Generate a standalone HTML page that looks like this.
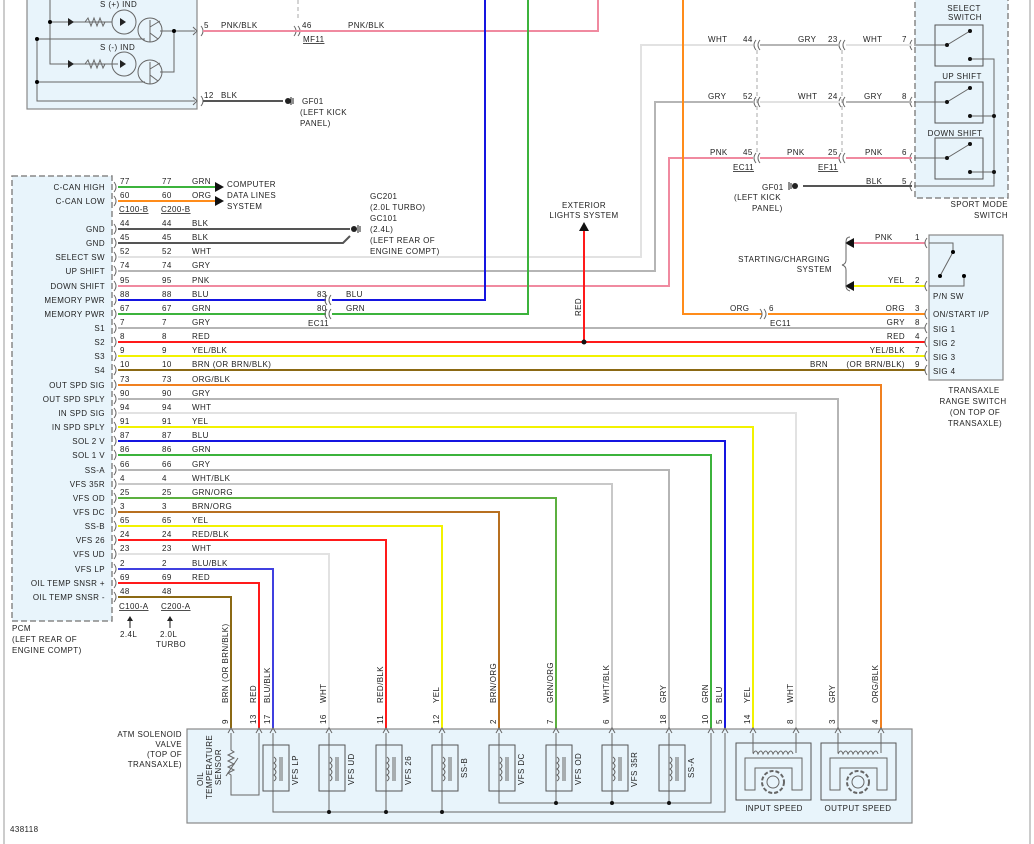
<!DOCTYPE html>
<html><head><meta charset="utf-8"><style>
body{margin:0;background:#fff}
svg{display:block}
text{font-family:"Liberation Sans",Arial,sans-serif;font-size:8px;fill:#222;letter-spacing:.4px}
.r{text-anchor:end}.m{text-anchor:middle}
.w{fill:none;stroke-width:2}
.k{fill:none;stroke:#666;stroke-width:1}
.u{text-decoration:underline}
</style></head><body>
<svg width="1034" height="844" viewBox="0 0 1034 844" xmlns="http://www.w3.org/2000/svg">
<line x1="4" y1="0" x2="4" y2="844" stroke="#999"/>
<line x1="1030" y1="0" x2="1030" y2="844" stroke="#999"/>
<text x="10" y="832">438118</text>

<!-- top-left component -->
<rect x="27" y="-2" width="170" height="111" fill="#e8f4fb" stroke="#888" stroke-width="1.2"/>
<g class="k" stroke="#555">
<path d="M37 39V101H195M37 39H145M37 82H145M50 0V64H118M50 22H112M174 31V72H160M160 31H195M150 20V42M150 62V84"/>
<path d="M85 22l3-4 3 8 3-8 3 8 3-8 3 8 2-4M85 64l3-4 3 8 3-8 3 8 3-8 3 8 2-4"/>
<circle cx="124" cy="22" r="12"/><circle cx="150" cy="30" r="12"/>
<circle cx="124" cy="64" r="12"/><circle cx="150" cy="72" r="12"/>
<path d="M150 27L160 21M150 33L158 39M150 69L160 63M150 75L158 81"/>
</g>
<path d="M68 18v8l6-4zM68 60v8l6-4zM120 18v8l6-4zM120 60v8l6-4" fill="#222"/>
<circle cx="37" cy="39" r="2"/><circle cx="37" cy="82" r="2"/><circle cx="50" cy="22" r="2"/><circle cx="174" cy="31" r="2"/>
<text x="100" y="7">S (+) IND</text><text x="100" y="50">S (-) IND</text>
<path d="M193 27l4 4-4 4M193 97l4 4-4 4" class="k"/>
<path d="M201 26q4 5 0 10M201 96q4 5 0 10M294 26q4 5 0 10M298 26q4 5 0 10" class="k"/>
<line x1="298" y1="0" x2="298" y2="20" stroke="#aaa" stroke-dasharray="4,3"/>
<path d="M203 31H598V0" class="w" stroke="#f08aa0"/>
<text x="204" y="28">5</text><text x="221" y="28">PNK/BLK</text><text x="302" y="28">46</text><text x="348" y="28">PNK/BLK</text>
<text x="303" y="42" class="u">MF11</text>
<path d="M203 101H283" class="w" stroke="#555"/>
<text x="204" y="98">12</text><text x="221" y="98">BLK</text>
<circle cx="288" cy="101" r="3" fill="#222"/><path d="M291 97v8M293 98v6" stroke="#222"/>
<text x="302" y="104">GF01</text><text x="300" y="115">(LEFT KICK</text><text x="300" y="126">PANEL)</text>

<!-- PCM -->
<rect x="12" y="176" width="100" height="445" fill="#e8f4fb" stroke="#888" stroke-width="1.5" stroke-dasharray="6,3"/>
<g class="r">
<text x="105" y="190">C-CAN HIGH</text><text x="105" y="204">C-CAN LOW</text>
<text x="105" y="232">GND</text><text x="105" y="246">GND</text><text x="105" y="260">SELECT SW</text><text x="105" y="274">UP SHIFT</text><text x="105" y="289">DOWN SHIFT</text><text x="105" y="303">MEMORY PWR</text><text x="105" y="317">MEMORY PWR</text><text x="105" y="331">S1</text><text x="105" y="345">S2</text><text x="105" y="359">S3</text><text x="105" y="373">S4</text><text x="105" y="388">OUT SPD SIG</text><text x="105" y="402">OUT SPD SPLY</text><text x="105" y="416">IN SPD SIG</text><text x="105" y="430">IN SPD SPLY</text><text x="105" y="444">SOL 2 V</text><text x="105" y="458">SOL 1 V</text><text x="105" y="473">SS-A</text><text x="105" y="487">VFS 35R</text><text x="105" y="501">VFS OD</text><text x="105" y="515">VFS DC</text><text x="105" y="529">SS-B</text><text x="105" y="543">VFS 26</text><text x="105" y="557">VFS UD</text><text x="105" y="572">VFS LP</text><text x="105" y="586">OIL TEMP SNSR +</text><text x="105" y="600">OIL TEMP SNSR -</text>
</g>
<text x="12" y="631">PCM</text><text x="12" y="642">(LEFT REAR OF</text><text x="12" y="653">ENGINE COMPT)</text>
<path class="k" d="M114 182q4 5 0 10M114 196q4 5 0 10M114 224q4 5 0 10M114 238q4 5 0 10M114 252q4 5 0 10M114 266q4 5 0 10M114 281q4 5 0 10M114 295q4 5 0 10M114 309q4 5 0 10M114 323q4 5 0 10M114 337q4 5 0 10M114 351q4 5 0 10M114 365q4 5 0 10M114 380q4 5 0 10M114 394q4 5 0 10M114 408q4 5 0 10M114 422q4 5 0 10M114 436q4 5 0 10M114 450q4 5 0 10M114 465q4 5 0 10M114 479q4 5 0 10M114 493q4 5 0 10M114 507q4 5 0 10M114 521q4 5 0 10M114 535q4 5 0 10M114 549q4 5 0 10M114 564q4 5 0 10M114 578q4 5 0 10M114 592q4 5 0 10"/>

<!-- wires -->
<path class="w" stroke="#3cb33c" d="M118 187H215"/><path class="w" stroke="#ff8c1a" d="M118 201H215"/>
<path d="M215 182v10l9-5zM215 196v10l9-5z" fill="#111"/>
<text x="227" y="187">COMPUTER</text><text x="227" y="198">DATA LINES</text><text x="227" y="209">SYSTEM</text>
<text x="119" y="212" class="u">C100-B</text><text x="161" y="212" class="u">C200-B</text>
<path class="w" stroke="#555" d="M118 229H350M118 243H343L350 236"/>
<circle cx="354" cy="229" r="3" fill="#222"/><path d="M358 225v8M360 226v6" stroke="#222"/>
<text x="370" y="199">GC201</text><text x="370" y="210">(2.0L TURBO)</text><text x="370" y="221">GC101</text><text x="370" y="232">(2.4L)</text><text x="370" y="243">(LEFT REAR OF</text><text x="370" y="254">ENGINE COMPT)</text>

<path class="w" stroke="#e2e2e2" d="M118 257H641V45H753"/>
<path class="w" stroke="#b5b5b5" d="M118 271H655V102H753"/>
<path class="w" stroke="#f08aa0" d="M118 286H669V158H753"/>
<path class="w" stroke="#1515e0" d="M118 300H326M332 300H485V0"/>
<path class="w" stroke="#3cb33c" d="M118 314H326M332 314H528V0"/>
<path class="k" d="M327 295q-4 5 0 10M331 295q-4 5 0 10M327 309q-4 5 0 10M331 309q-4 5 0 10"/>
<text x="317" y="297">83</text><text x="317" y="311">80</text><text x="346" y="297">BLU</text><text x="346" y="311">GRN</text><text x="308" y="326" class="u">EC11</text>

<path class="w" stroke="#ff8c1a" d="M683 0V314H762M768 314H925"/>
<path class="k" d="M760 309q4 5 0 10M764 309q4 5 0 10"/>
<text x="730" y="311">ORG</text><text x="769" y="311">6</text><text x="770" y="326" class="u">EC11</text>
<path class="w" stroke="#b5b5b5" d="M118 328H925"/>
<path class="w" stroke="#ff1a1a" d="M118 342H925M584 342V230"/>
<circle cx="584" cy="342" r="2.5" fill="#111"/><path d="M579 231l5-9 5 9z" fill="#111"/>
<text x="584" y="208" class="m">EXTERIOR</text><text x="584" y="218" class="m">LIGHTS SYSTEM</text>
<text transform="translate(581,316) rotate(-90)">RED</text>
<path class="w" stroke="#f2f200" d="M118 356H925"/>
<path class="w" stroke="#8b6914" d="M118 370H925"/>
<path class="w" stroke="#f08020" d="M118 385H881V728"/>
<path class="w" stroke="#b5b5b5" d="M118 399H838V728"/>
<path class="w" stroke="#e2e2e2" d="M118 413H796V728"/>
<path class="w" stroke="#f2f200" d="M118 427H753V728"/>
<path class="w" stroke="#1515e0" d="M118 441H725V728"/>
<path class="w" stroke="#3cb33c" d="M118 455H711V728"/>
<path class="w" stroke="#b5b5b5" d="M118 470H669V728"/>
<path class="w" stroke="#c8c8c8" d="M118 484H612V728"/>
<path class="w" stroke="#5cb040" d="M118 498H556V728"/>
<path class="w" stroke="#b87020" d="M118 512H499V728"/>
<path class="w" stroke="#f2f200" d="M118 526H442V728"/>
<path class="w" stroke="#ff1a1a" d="M118 540H386V728"/>
<path class="w" stroke="#e2e2e2" d="M118 554H329V728"/>
<path class="w" stroke="#4040e0" d="M118 569H273V728"/>
<path class="w" stroke="#ff1a1a" d="M118 583H259V728"/>
<path class="w" stroke="#8b6914" d="M118 597H231V728"/>

<!-- row labels -->
<g>
<text x="120" y="184">77</text><text x="162" y="184">77</text><text x="192" y="184">GRN</text>
<text x="120" y="198">60</text><text x="162" y="198">60</text><text x="192" y="198">ORG</text>
<text x="120" y="226">44</text><text x="162" y="226">44</text><text x="192" y="226">BLK</text>
<text x="120" y="240">45</text><text x="162" y="240">45</text><text x="192" y="240">BLK</text>
<text x="120" y="254">52</text><text x="162" y="254">52</text><text x="192" y="254">WHT</text>
<text x="120" y="268">74</text><text x="162" y="268">74</text><text x="192" y="268">GRY</text>
<text x="120" y="283">95</text><text x="162" y="283">95</text><text x="192" y="283">PNK</text>
<text x="120" y="297">88</text><text x="162" y="297">88</text><text x="192" y="297">BLU</text>
<text x="120" y="311">67</text><text x="162" y="311">67</text><text x="192" y="311">GRN</text>
<text x="120" y="325">7</text><text x="162" y="325">7</text><text x="192" y="325">GRY</text>
<text x="120" y="339">8</text><text x="162" y="339">8</text><text x="192" y="339">RED</text>
<text x="120" y="353">9</text><text x="162" y="353">9</text><text x="192" y="353">YEL/BLK</text>
<text x="120" y="367">10</text><text x="162" y="367">10</text><text x="192" y="367">BRN   (OR BRN/BLK)</text>
<text x="120" y="382">73</text><text x="162" y="382">73</text><text x="192" y="382">ORG/BLK</text>
<text x="120" y="396">90</text><text x="162" y="396">90</text><text x="192" y="396">GRY</text>
<text x="120" y="410">94</text><text x="162" y="410">94</text><text x="192" y="410">WHT</text>
<text x="120" y="424">91</text><text x="162" y="424">91</text><text x="192" y="424">YEL</text>
<text x="120" y="438">87</text><text x="162" y="438">87</text><text x="192" y="438">BLU</text>
<text x="120" y="452">86</text><text x="162" y="452">86</text><text x="192" y="452">GRN</text>
<text x="120" y="467">66</text><text x="162" y="467">66</text><text x="192" y="467">GRY</text>
<text x="120" y="481">4</text><text x="162" y="481">4</text><text x="192" y="481">WHT/BLK</text>
<text x="120" y="495">25</text><text x="162" y="495">25</text><text x="192" y="495">GRN/ORG</text>
<text x="120" y="509">3</text><text x="162" y="509">3</text><text x="192" y="509">BRN/ORG</text>
<text x="120" y="523">65</text><text x="162" y="523">65</text><text x="192" y="523">YEL</text>
<text x="120" y="537">24</text><text x="162" y="537">24</text><text x="192" y="537">RED/BLK</text>
<text x="120" y="551">23</text><text x="162" y="551">23</text><text x="192" y="551">WHT</text>
<text x="120" y="566">2</text><text x="162" y="566">2</text><text x="192" y="566">BLU/BLK</text>
<text x="120" y="580">69</text><text x="162" y="580">69</text><text x="192" y="580">RED</text>
<text x="120" y="594">48</text><text x="162" y="594">48</text>
</g>
<text x="119" y="609" class="u">C100-A</text><text x="161" y="609" class="u">C200-A</text>
<path d="M130 628V619M170 628V619" stroke="#222"/><path d="M127 621l3-5 3 5zM167 621l3-5 3 5z" fill="#222"/>
<text x="120" y="637">2.4L</text><text x="160" y="637">2.0L</text><text x="156" y="647">TURBO</text>

<!-- sport mode switch -->
<rect x="915" y="-2" width="93" height="200" fill="#e8f4fb" stroke="#888" stroke-width="1.5" stroke-dasharray="6,3"/>
<text x="964" y="11" class="m">SELECT</text><text x="965" y="20" class="m">SWITCH</text>
<text x="962" y="79" class="m">UP SHIFT</text><text x="955" y="136" class="m">DOWN SHIFT</text>
<g fill="#e8f4fb" stroke="#555"><rect x="935" y="25" width="48" height="41"/><rect x="935" y="82" width="48" height="41"/><rect x="935" y="138" width="48" height="41"/></g>
<g class="k" stroke="#444">
<path d="M914 45H947L970 31M914 102H947L970 88M914 158H947L970 144M970 59H994V186H914M970 116H994M970 172H994"/>
<path d="M912 40q-4 5 0 10M912 97q-4 5 0 10M912 153q-4 5 0 10M912 181q-4 5 0 10M756 40q-4 5 0 10M760 40q-4 5 0 10M756 97q-4 5 0 10M760 97q-4 5 0 10M756 153q-4 5 0 10M760 153q-4 5 0 10M841 40q-4 5 0 10M845 40q-4 5 0 10M841 97q-4 5 0 10M845 97q-4 5 0 10M841 153q-4 5 0 10M845 153q-4 5 0 10"/>
</g>
<g fill="#111"><circle cx="947" cy="45" r="2"/><circle cx="970" cy="31" r="2"/><circle cx="970" cy="59" r="2"/><circle cx="947" cy="102" r="2"/><circle cx="970" cy="88" r="2"/><circle cx="970" cy="116" r="2"/><circle cx="947" cy="158" r="2"/><circle cx="970" cy="144" r="2"/><circle cx="970" cy="172" r="2"/><circle cx="994" cy="116" r="2"/><circle cx="994" cy="172" r="2"/></g>
<path d="M757 50V153M842 50V153" stroke="#aaa" stroke-dasharray="4,3"/>
<path class="w" stroke="#b5b5b5" d="M760 45H840"/><path class="w" stroke="#e2e2e2" d="M846 45H912"/>
<path class="w" stroke="#e2e2e2" d="M760 102H840"/><path class="w" stroke="#b5b5b5" d="M846 102H912"/>
<path class="w" stroke="#f08aa0" d="M760 158H840M846 158H912"/>
<path class="w" stroke="#555" d="M803 186H912"/>
<circle cx="795" cy="186" r="3" fill="#222"/><path d="M789 182v8M791 183v6" stroke="#222"/>
<text x="708" y="42">WHT</text><text x="743" y="42">44</text><text x="798" y="42">GRY</text><text x="828" y="42">23</text><text x="863" y="42">WHT</text><text x="902" y="42">7</text>
<text x="708" y="99">GRY</text><text x="743" y="99">52</text><text x="798" y="99">WHT</text><text x="828" y="99">24</text><text x="864" y="99">GRY</text><text x="902" y="99">8</text>
<text x="710" y="155">PNK</text><text x="743" y="155">45</text><text x="787" y="155">PNK</text><text x="828" y="155">25</text><text x="865" y="155">PNK</text><text x="902" y="155">6</text>
<text x="733" y="170" class="u">EC11</text><text x="818" y="170" class="u">EF11</text>
<text x="866" y="184">BLK</text><text x="902" y="184">5</text>
<text x="762" y="190">GF01</text><text x="734" y="200">(LEFT KICK</text><text x="752" y="211">PANEL)</text>
<text x="1008" y="207" class="r">SPORT MODE</text><text x="1008" y="218" class="r">SWITCH</text>

<!-- TRS -->
<rect x="929" y="235" width="74" height="145" fill="#e8f4fb" stroke="#888" stroke-width="1.2"/>
<path class="w" stroke="#f08aa0" d="M854 243H925"/><path class="w" stroke="#f2f200" d="M854 286H925"/>
<path d="M854 238v10l-9-5zM854 281v10l-9-5z" fill="#111"/>
<path class="k" d="M850 237q-4 0-4 5v18q0 4-4 5q4 1 4 5v16q0 4 4 5"/>
<text x="830" y="262" class="r">STARTING/CHARGING</text><text x="832" y="272" class="r">SYSTEM</text>
<text x="875" y="240">PNK</text><text x="915" y="240">1</text><text x="888" y="283">YEL</text><text x="915" y="283">2</text>
<path class="k" stroke="#444" d="M929 243H953V252L940 276M964 276V286H929"/>
<circle cx="953" cy="252" r="2"/><circle cx="940" cy="276" r="2"/><circle cx="964" cy="276" r="2"/>
<path class="k" d="M927 238q-4 5 0 10M927 281q-4 5 0 10M927 309q-4 5 0 10M927 323q-4 5 0 10M927 337q-4 5 0 10M927 351q-4 5 0 10M927 365q-4 5 0 10"/>
<text x="933" y="299">P/N SW</text><text x="933" y="317">ON/START I/P</text><text x="933" y="332">SIG 1</text><text x="933" y="346">SIG 2</text><text x="933" y="360">SIG 3</text><text x="933" y="374">SIG 4</text>
<text x="905" y="311" class="r">ORG</text><text x="915" y="311">3</text>
<text x="905" y="325" class="r">GRY</text><text x="915" y="325">8</text>
<text x="905" y="339" class="r">RED</text><text x="915" y="339">4</text>
<text x="905" y="353" class="r">YEL/BLK</text><text x="915" y="353">7</text>
<text x="810" y="367">BRN</text><text x="905" y="367" class="r">(OR BRN/BLK)</text><text x="915" y="367">9</text>
<text x="974" y="393" class="m">TRANSAXLE</text><text x="973" y="404" class="m">RANGE SWITCH</text><text x="975" y="415" class="m">(ON TOP OF</text><text x="975" y="426" class="m">TRANSAXLE)</text>

<!-- ATM solenoid module -->
<rect x="187" y="729" width="725" height="94" fill="#e8f4fb" stroke="#888" stroke-width="1.2"/>
<text x="182" y="737" class="r">ATM SOLENOID</text><text x="182" y="747" class="r">VALVE</text><text x="182" y="757" class="r">(TOP OF</text><text x="182" y="767" class="r">TRANSAXLE)</text>
<g class="k" stroke="#555">
<path d="M231 733V750l3 2-6 3 6 3-6 3 6 3-6 3 6 3-6 3 3 2V795H259V733"/>
<path d="M273 733V812H725V733M329 733V812M386 733V812M442 733V812M499 733V803H711V733M556 733V803M612 733V803M669 733V803"/>
<path d="M226 776L238 758"/>
</g>
<g fill="#e8f4fb" stroke="#555"><rect x="263" y="745" width="26" height="46"/><rect x="319" y="745" width="26" height="46"/><rect x="376" y="745" width="26" height="46"/><rect x="432" y="745" width="26" height="46"/><rect x="489" y="745" width="26" height="46"/><rect x="546" y="745" width="26" height="46"/><rect x="602" y="745" width="26" height="46"/><rect x="659" y="745" width="26" height="46"/></g>
<g class="k" stroke="#444">
<path d="M273 745V791M329 745V791M386 745V791M442 745V791M499 745V791M556 745V791M612 745V791M669 745V791"/>
<path d="M274 757q4 3 0 6q4 3 0 6q4 3 0 6q4 3 0 6M330 757q4 3 0 6q4 3 0 6q4 3 0 6q4 3 0 6M387 757q4 3 0 6q4 3 0 6q4 3 0 6q4 3 0 6M443 757q4 3 0 6q4 3 0 6q4 3 0 6q4 3 0 6M500 757q4 3 0 6q4 3 0 6q4 3 0 6q4 3 0 6M557 757q4 3 0 6q4 3 0 6q4 3 0 6q4 3 0 6M613 757q4 3 0 6q4 3 0 6q4 3 0 6q4 3 0 6M670 757q4 3 0 6q4 3 0 6q4 3 0 6q4 3 0 6"/>
<path d="M280 757V781M282 757V781M336 757V781M338 757V781M393 757V781M395 757V781M449 757V781M451 757V781M506 757V781M508 757V781M563 757V781M565 757V781M619 757V781M621 757V781M676 757V781M678 757V781"/>
</g>
<g fill="#111"><circle cx="329" cy="812" r="2"/><circle cx="386" cy="812" r="2"/><circle cx="442" cy="812" r="2"/><circle cx="556" cy="803" r="2"/><circle cx="612" cy="803" r="2"/><circle cx="669" cy="803" r="2"/></g>
<g>
<text transform="translate(298,785) rotate(-90)">VFS LP</text><text transform="translate(354,785) rotate(-90)">VFS UD</text><text transform="translate(411,785) rotate(-90)">VFS 26</text><text transform="translate(467,778) rotate(-90)">SS-B</text><text transform="translate(524,785) rotate(-90)">VFS DC</text><text transform="translate(581,785) rotate(-90)">VFS OD</text><text transform="translate(637,787) rotate(-90)">VFS 35R</text><text transform="translate(694,778) rotate(-90)">SS-A</text>
<text transform="translate(203,779) rotate(-90)" class="m">OIL</text><text transform="translate(212,767) rotate(-90)" class="m">TEMPERATURE</text><text transform="translate(221,767) rotate(-90)" class="m">SENSOR</text>
</g>
<!-- speed sensors -->
<g fill="#e8f4fb" stroke="#555"><rect x="736" y="743" width="75" height="57"/><rect x="821" y="743" width="75" height="57"/></g>
<g class="k" stroke="#555">
<path d="M753 733V753M796 733V753M838 733V753M881 733V753"/>
<path d="M745 790V758H802V790H792V768H755V790ZM830 790V758H887V790H877V768H840V790Z"/>
<path d="M753 754q3-6 5 0q3-6 5 0q3-6 5 0q3-6 5 0q3-6 5 0q3-6 5 0q3-6 5 0q3-6 5 0M838 754q3-6 5 0q3-6 5 0q3-6 5 0q3-6 5 0q3-6 5 0q3-6 5 0q3-6 5 0q3-6 5 0"/>
<circle cx="773" cy="782" r="11" stroke-dasharray="4,2" stroke-width="2"/><circle cx="773" cy="782" r="6"/>
<circle cx="858" cy="782" r="11" stroke-dasharray="4,2" stroke-width="2"/><circle cx="858" cy="782" r="6"/>
</g>
<text x="774" y="811" class="m">INPUT SPEED</text><text x="858" y="811" class="m">OUTPUT SPEED</text>
<!-- pin chevrons -->
<path class="k" stroke="#444" d="M228 733l3-5 3 5M256 733l3-5 3 5M270 733l3-5 3 5M326 733l3-5 3 5M383 733l3-5 3 5M439 733l3-5 3 5M496 733l3-5 3 5M553 733l3-5 3 5M609 733l3-5 3 5M666 733l3-5 3 5M708 733l3-5 3 5M722 733l3-5 3 5M750 733l3-5 3 5M793 733l3-5 3 5M835 733l3-5 3 5M878 733l3-5 3 5"/>
<!-- pin labels -->
<g>
<text transform="translate(228,724) rotate(-90)">9</text><text transform="translate(228,703) rotate(-90)">BRN</text><text transform="translate(228,682) rotate(-90)">(OR BRN/BLK)</text>
<text transform="translate(256,724) rotate(-90)">13</text><text transform="translate(256,703) rotate(-90)">RED</text>
<text transform="translate(270,724) rotate(-90)">17</text><text transform="translate(270,703) rotate(-90)">BLU/BLK</text>
<text transform="translate(326,724) rotate(-90)">16</text><text transform="translate(326,703) rotate(-90)">WHT</text>
<text transform="translate(383,724) rotate(-90)">11</text><text transform="translate(383,703) rotate(-90)">RED/BLK</text>
<text transform="translate(439,724) rotate(-90)">12</text><text transform="translate(439,703) rotate(-90)">YEL</text>
<text transform="translate(496,724) rotate(-90)">2</text><text transform="translate(496,703) rotate(-90)">BRN/ORG</text>
<text transform="translate(553,724) rotate(-90)">7</text><text transform="translate(553,703) rotate(-90)">GRN/ORG</text>
<text transform="translate(609,724) rotate(-90)">6</text><text transform="translate(609,703) rotate(-90)">WHT/BLK</text>
<text transform="translate(666,724) rotate(-90)">18</text><text transform="translate(666,703) rotate(-90)">GRY</text>
<text transform="translate(708,724) rotate(-90)">10</text><text transform="translate(708,703) rotate(-90)">GRN</text>
<text transform="translate(722,724) rotate(-90)">5</text><text transform="translate(722,703) rotate(-90)">BLU</text>
<text transform="translate(750,724) rotate(-90)">14</text><text transform="translate(750,703) rotate(-90)">YEL</text>
<text transform="translate(793,724) rotate(-90)">8</text><text transform="translate(793,703) rotate(-90)">WHT</text>
<text transform="translate(835,724) rotate(-90)">3</text><text transform="translate(835,703) rotate(-90)">GRY</text>
<text transform="translate(878,724) rotate(-90)">4</text><text transform="translate(878,703) rotate(-90)">ORG/BLK</text>
</g>
</svg>
</body></html>
